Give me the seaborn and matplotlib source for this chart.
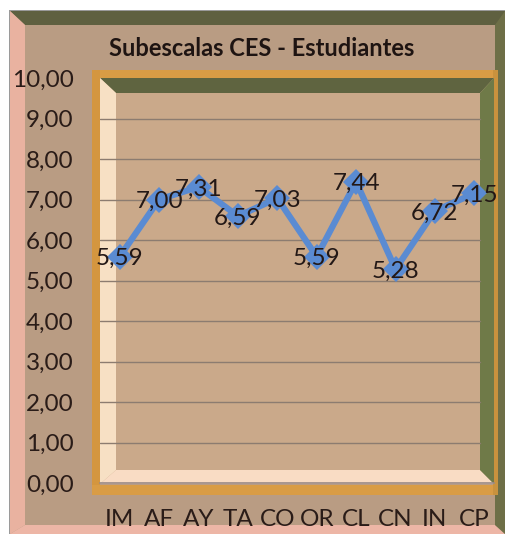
import matplotlib
matplotlib.use("Agg")
import matplotlib.pyplot as plt
from matplotlib.patches import Rectangle, Polygon
import seaborn as sns

# Datos
subescalas = ["IM", "AF", "AY", "TA", "CO", "OR", "CL", "CN", "IN", "CP"]
medias = [5.59, 7.00, 7.31, 6.59, 7.03, 5.59, 7.44, 5.28, 6.72, 7.15]
yticks = [0, 1, 2, 3, 4, 5, 6, 7, 8, 9, 10]
titulo = "Subescalas CES - Estudiantes"

W, H = 505, 534
sns.set_theme(style="white")
plt.rcParams["font.family"] = ["Lato", "DejaVu Sans"]

fig = plt.figure(figsize=(W / 100, H / 100), dpi=100)
fig.patch.set_facecolor("white")


def fx(x):
    return x / W


def fy(y):
    return 1 - y / H


def rect(x0, y0, x1, y1, color, z=-5):
    fig.add_artist(Rectangle((fx(x0), fy(y1)), fx(x1) - fx(x0), fy(y0) - fy(y1),
                             transform=fig.transFigure, facecolor=color,
                             edgecolor="none", zorder=z))


def poly(pts, color, z=-5):
    fig.add_artist(Polygon([(fx(a), fy(b)) for a, b in pts], closed=True,
                           transform=fig.transFigure, facecolor=color,
                           edgecolor="none", zorder=z))


# marco exterior (bisel)
rect(9, 10, 505, 534, "#9a9a9a", -9)
rect(10, 11, 505, 534, "#b99c83", -8)
poly([(10, 11), (505, 11), (505, 25), (25, 25)], "#5f6040", -7)
poly([(10, 11), (25, 25), (25, 525), (10, 534)], "#e9b2a0", -7)
poly([(10, 534), (25, 525), (495, 525), (505, 534)], "#edb6a6", -7)
poly([(505, 11), (495, 25), (495, 525), (505, 534)], "#6e6f47", -7)

# area de trazado (paredes 3D)
rect(92, 70, 498, 78, "#d99c45", -6)
rect(92, 70, 100, 495, "#d4963f", -6)
rect(92, 485, 498, 495, "#d99c45", -6)
rect(493, 70, 498, 495, "#c9923e", -6)
rect(100, 78, 494, 484, "#caa98a", -6)
poly([(100, 78), (494, 78), (480, 93), (116, 93)], "#5f6440", -5)
poly([(100, 78), (116, 93), (116, 470), (100, 484)], "#f7e0c4", -5)
poly([(100, 484), (116, 470), (480, 470), (494, 484)], "#f9dcc4", -5)
poly([(494, 78), (480, 93), (480, 470), (494, 484)], "#6f7a48", -5)

ax = fig.add_axes([fx(100), fy(483), fx(494) - fx(100), fy(78) - fy(483)])
ax.set_facecolor("none")

xs = list(range(len(subescalas)))
sns.lineplot(x=xs, y=medias, ax=ax, color="#5a8bd2", linewidth=4.5,
             marker="D", markersize=13, markeredgewidth=0, zorder=4)

for x, v in zip(xs, medias):
    ax.text(x, v - 0.05, f"{v:.2f}".replace(".", ","), ha="center", va="center",
            fontsize=17.5, color="#231816", zorder=5)

ax.set_xlim(-0.5, len(subescalas) - 0.5)
ax.set_ylim(0, 10)
ax.set_yticks(yticks)
ax.set_yticklabels([f"{t:.2f}".replace(".", ",") for t in yticks])
ax.set_xticks([i - 0.5 for i in range(len(subescalas) + 1)])
ax.set_xticklabels([])
ax.set_xticks(xs, minor=True)
ax.set_xticklabels(subescalas, minor=True)
ax.tick_params(axis="y", length=0, pad=19, labelsize=17.5, labelcolor="#2a1c18")
ax.tick_params(axis="x", which="major", length=5, width=0.8, color="#8a7a70", direction="out")
ax.tick_params(axis="x", which="minor", length=0, pad=19, labelsize=17.5, labelcolor="#2a1c18")

for t in yticks[1:-1]:
    ax.plot([-0.5, 9.15], [t, t], color="#8c7c70", linewidth=1.0, zorder=1)

for s in ["left", "right", "top"]:
    ax.spines[s].set_visible(False)
ax.spines["bottom"].set_color("#9a8a86")
ax.spines["bottom"].set_linewidth(1.2)
ax.grid(False)

fig.text(fx(262), fy(48), titulo, ha="center", va="center", fontsize=17,
         fontweight="bold", color="#1e1412")

fig.savefig("out.png", dpi=100)
